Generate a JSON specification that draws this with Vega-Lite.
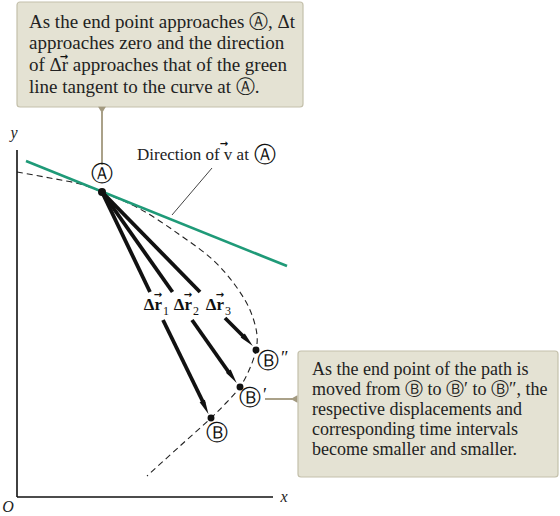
{
  "$schema": "https://vega.github.io/schema/vega-lite/v6.json",
  "width": 560,
  "height": 516,
  "padding": 0,
  "autosize": {"type": "none"},
  "background": "white",
  "config": {"view": {"stroke": null}},
  "datasets": {
    "curve": [
      {"i": 0, "x": 0, "y": 325}, {"i": 1, "x": 33, "y": 319}, {"i": 2, "x": 63, "y": 313},
      {"i": 3, "x": 85, "y": 305}, {"i": 4, "x": 123, "y": 288}, {"i": 5, "x": 163, "y": 262},
      {"i": 6, "x": 196, "y": 237}, {"i": 7, "x": 218, "y": 212}, {"i": 8, "x": 233, "y": 187},
      {"i": 9, "x": 240, "y": 162}, {"i": 10, "x": 239, "y": 147}, {"i": 11, "x": 233, "y": 129},
      {"i": 12, "x": 223, "y": 110}, {"i": 13, "x": 209, "y": 94}, {"i": 14, "x": 194, "y": 79},
      {"i": 15, "x": 163, "y": 51}, {"i": 16, "x": 130, "y": 21}
    ],
    "segs": [
      {"kind": "axis", "x": 0, "y": 0, "x2": 0, "y2": 347},
      {"kind": "axis", "x": 0, "y": 0, "x2": 256, "y2": 0},
      {"kind": "arrow", "x": 85, "y": 305, "x2": 133, "y2": 205},
      {"kind": "arrow", "x": 146, "y": 177, "x2": 187, "y2": 93},
      {"kind": "arrow", "x": 85, "y": 305, "x2": 155.5, "y2": 205},
      {"kind": "arrow", "x": 175, "y": 177, "x2": 213, "y2": 123},
      {"kind": "arrow", "x": 85, "y": 305, "x2": 183, "y2": 205},
      {"kind": "arrow", "x": 208, "y": 179, "x2": 228, "y2": 159}
    ],
    "boxes": [
      {"x": 0, "x2": 286, "y": 495, "y2": 390},
      {"x": 281, "x2": 541, "y": 146, "y2": 20}
    ],
    "pointers": [
      {"x": 85, "y": 385, "x2": 85, "y2": 332},
      {"x": 248, "y": 98, "x2": 275, "y2": 98}
    ],
    "ptris": [
      {"x": 85, "y": 387, "shape": "triangle-down"},
      {"x": 277, "y": 98, "shape": "triangle-left"}
    ],
    "heads": [
      {"x": 188.4, "y": 89.4, "angle": 154.4},
      {"x": 215.5, "y": 119.9, "angle": 144.8},
      {"x": 230.8, "y": 156.3, "angle": 135.6}
    ],
    "dots": [
      {"name": "A", "x": 85, "y": 305, "s": 64},
      {"name": "B", "x": 194, "y": 79, "s": 48},
      {"name": "B1", "x": 223, "y": 110, "s": 48},
      {"name": "B2", "x": 239, "y": 147, "s": 48}
    ],
    "boxtext": [
      {"x": 12, "y": 475, "t": "As the end point approaches Ⓐ, Δt", "size": 19},
      {"x": 12, "y": 454, "t": "approaches zero and the direction", "size": 19},
      {"x": 12, "y": 432, "t": "of Δr approaches that of the green", "size": 19},
      {"x": 12, "y": 410, "t": "line tangent to the curve at Ⓐ.", "size": 19},
      {"x": 295, "y": 127, "t": "As the end point of the path is", "size": 18},
      {"x": 295, "y": 107, "t": "moved from Ⓑ to Ⓑ′ to Ⓑ″, the", "size": 18},
      {"x": 295, "y": 87, "t": "respective displacements and", "size": 18},
      {"x": 295, "y": 67, "t": "corresponding time intervals", "size": 18},
      {"x": 295, "y": 47, "t": "become smaller and smaller.", "size": 18},
      {"x": 120, "y": 342, "t": "Direction of v at", "size": 17}
    ],
    "circled": [
      {"x": 85, "y": 323, "t": "Ⓐ"},
      {"x": 200, "y": 64, "t": "Ⓑ"},
      {"x": 233, "y": 99, "t": "Ⓑ"},
      {"x": 251, "y": 136, "t": "Ⓑ"},
      {"x": 248, "y": 342, "t": "Ⓐ"}
    ],
    "primes": [
      {"x": 246, "y": 101, "t": "′"},
      {"x": 264, "y": 138, "t": "″"}
    ],
    "vecs": [
      {"x": 141, "y": 202},
      {"x": 171, "y": 202},
      {"x": 203, "y": 202},
      {"x": 207, "y": 353},
      {"x": 47, "y": 440.5}
    ],
    "dr": [
      {"x": 145, "y": 192, "t": "Δr"},
      {"x": 175, "y": 192, "t": "Δr"},
      {"x": 207, "y": 192, "t": "Δr"}
    ],
    "subs": [
      {"x": 146, "y": 186, "t": "1"},
      {"x": 176, "y": 186, "t": "2"},
      {"x": 208, "y": 186, "t": "3"}
    ],
    "axlabels": [
      {"x": -3, "y": 364, "t": "y"},
      {"x": 267, "y": 0, "t": "x"},
      {"x": -9, "y": -10, "t": "O"}
    ]
  },
  "encoding": {
    "x": {"field": "x", "type": "quantitative", "axis": null, "scale": {"domain": [-17, 543], "nice": false, "zero": false}},
    "y": {"field": "y", "type": "quantitative", "axis": null, "scale": {"domain": [-19, 497], "nice": false, "zero": false}}
  },
  "layer": [
    {
      "data": {"name": "boxes"},
      "mark": {"type": "rect", "fill": "#e4e2d3", "stroke": "#c4c0ab", "strokeWidth": 1.2, "cornerRadius": 3},
      "encoding": {"x2": {"field": "x2"}, "y2": {"field": "y2"}}
    },
    {
      "data": {"name": "pointers"},
      "mark": {"type": "rule", "stroke": "#aaa189", "strokeWidth": 2},
      "encoding": {"x2": {"field": "x2"}, "y2": {"field": "y2"}}
    },
    {
      "data": {"name": "ptris"},
      "mark": {"type": "point", "filled": true, "fill": "#a39a80", "size": 60, "opacity": 1},
      "encoding": {"shape": {"field": "shape", "type": "nominal", "scale": null}}
    },
    {
      "data": {"name": "curve"},
      "mark": {"type": "line", "stroke": "#222", "strokeWidth": 1.1, "strokeDash": [6, 4], "interpolate": "catmull-rom"},
      "encoding": {"order": {"field": "i"}}
    },
    {
      "data": {"values": [{"x": 9, "y": 336, "x2": 270, "y2": 231}]},
      "mark": {"type": "rule", "stroke": "#1f9a78", "strokeWidth": 2.6},
      "encoding": {"x2": {"field": "x2"}, "y2": {"field": "y2"}}
    },
    {
      "data": {"values": [{"x": 155, "y": 282, "x2": 195, "y2": 329}]},
      "mark": {"type": "rule", "stroke": "#444", "strokeWidth": 1},
      "encoding": {"x2": {"field": "x2"}, "y2": {"field": "y2"}}
    },
    {
      "data": {"name": "segs"},
      "transform": [{"filter": "datum.kind == 'axis'"}],
      "mark": {"type": "rule", "stroke": "#111", "strokeWidth": 1.6},
      "encoding": {"x2": {"field": "x2"}, "y2": {"field": "y2"}}
    },
    {
      "data": {"name": "segs"},
      "transform": [{"filter": "datum.kind == 'arrow'"}],
      "mark": {"type": "rule", "stroke": "#111", "strokeWidth": 3.8},
      "encoding": {"x2": {"field": "x2"}, "y2": {"field": "y2"}}
    },
    {
      "data": {"name": "heads"},
      "mark": {"type": "point", "filled": true, "fill": "#111", "opacity": 1, "size": 210, "shape": "M0,-1L0.4,1L-0.4,1Z"},
      "encoding": {"angle": {"field": "angle", "type": "quantitative", "scale": null}}
    },
    {
      "data": {"name": "dots"},
      "mark": {"type": "point", "filled": true, "fill": "#111", "opacity": 1, "shape": "circle"},
      "encoding": {"size": {"field": "s", "type": "quantitative", "scale": null}}
    },
    {
      "data": {"name": "boxtext"},
      "mark": {"type": "text", "align": "left", "baseline": "middle", "font": "Liberation Serif", "color": "#222"},
      "encoding": {"text": {"field": "t"}, "size": {"field": "size", "type": "quantitative", "scale": null}}
    },
    {
      "data": {"name": "circled"},
      "mark": {"type": "text", "align": "center", "baseline": "middle", "font": "DejaVu Sans", "fontSize": 22, "color": "#111"},
      "encoding": {"text": {"field": "t"}}
    },
    {
      "data": {"name": "primes"},
      "mark": {"type": "text", "align": "left", "baseline": "middle", "font": "Liberation Serif", "fontSize": 18, "color": "#111"},
      "encoding": {"text": {"field": "t"}}
    },
    {
      "data": {"name": "vecs"},
      "mark": {"type": "text", "align": "center", "baseline": "middle", "font": "DejaVu Sans", "fontSize": 10, "fontWeight": "bold", "color": "#111", "text": "→"},
      "encoding": {}
    },
    {
      "data": {"name": "dr"},
      "mark": {"type": "text", "align": "right", "baseline": "middle", "font": "Liberation Serif", "fontWeight": "bold", "fontSize": 17, "color": "#111"},
      "encoding": {"text": {"field": "t"}}
    },
    {
      "data": {"name": "subs"},
      "mark": {"type": "text", "align": "left", "baseline": "middle", "font": "Liberation Serif", "fontSize": 12, "color": "#111"},
      "encoding": {"text": {"field": "t"}}
    },
    {
      "data": {"name": "axlabels"},
      "mark": {"type": "text", "align": "center", "baseline": "middle", "font": "Liberation Serif", "fontStyle": "italic", "fontSize": 16, "color": "#222"},
      "encoding": {"text": {"field": "t"}}
    }
  ]
}
